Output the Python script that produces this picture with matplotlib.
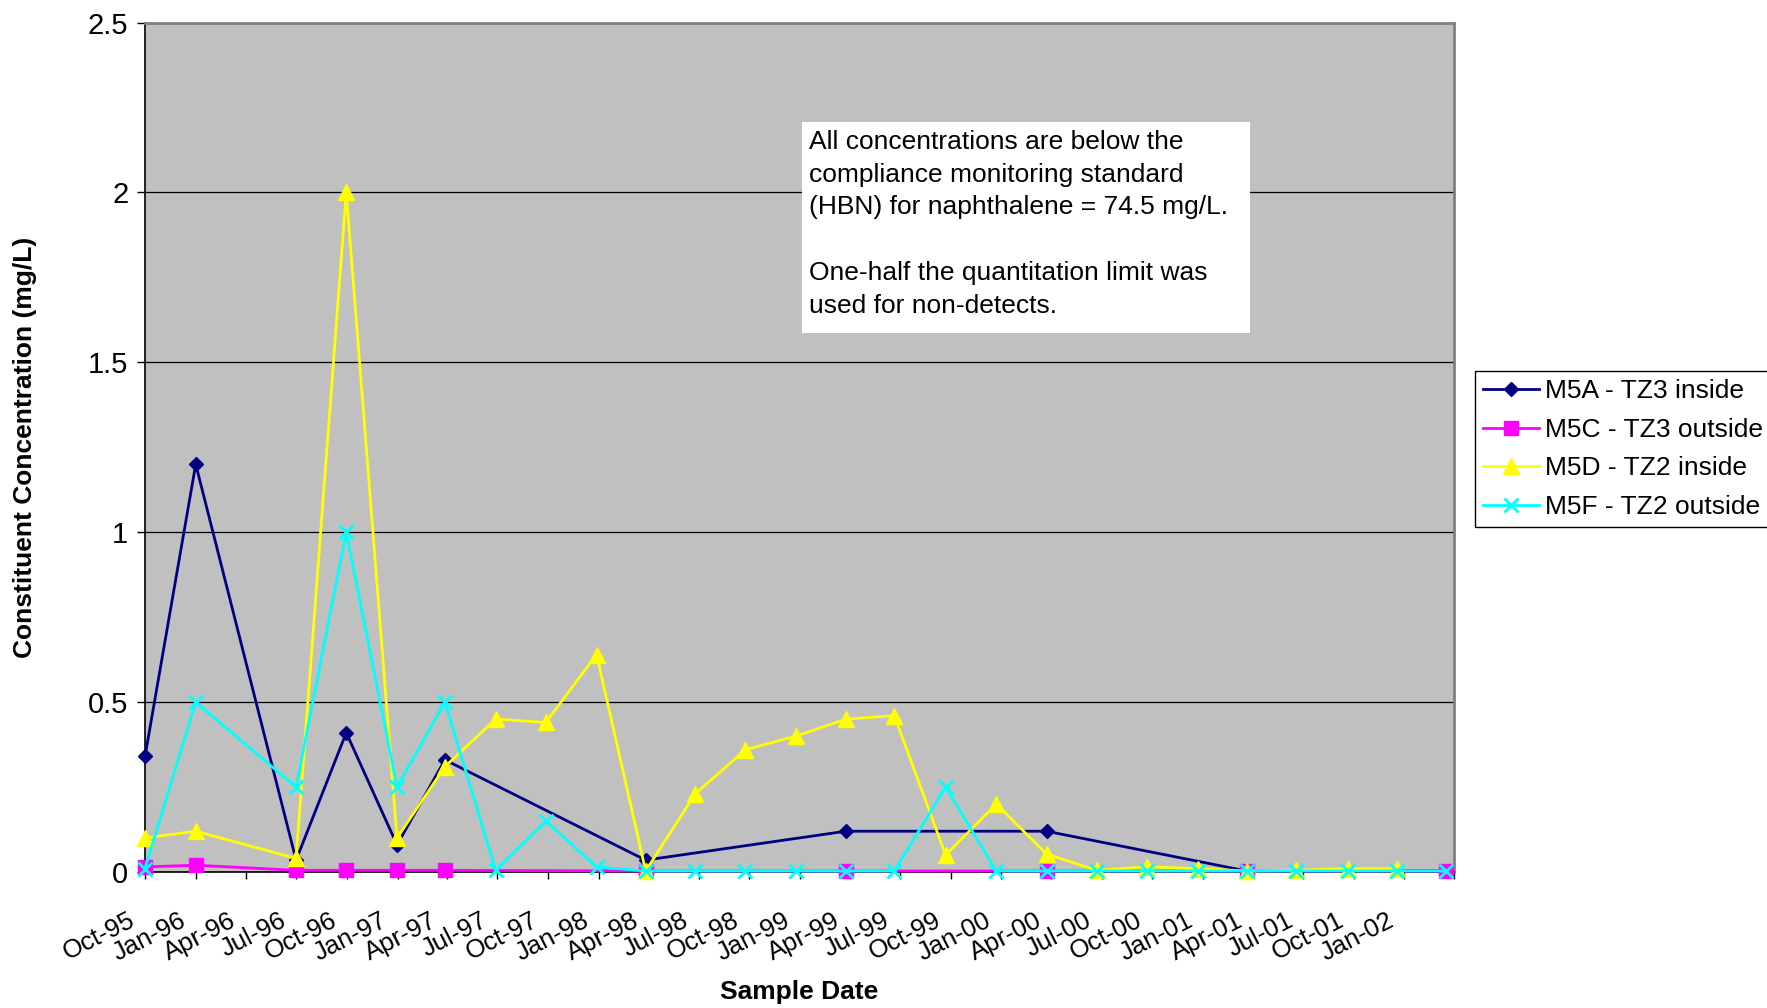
import matplotlib
matplotlib.use("Agg")
import matplotlib.pyplot as plt
from matplotlib.transforms import ScaledTranslation
from matplotlib.patches import Rectangle
import pandas as pd

plt.rcParams['font.family'] = ['Liberation Sans', 'DejaVu Sans']
plt.rcParams['font.size'] = 19

# sampling dates (no sample in Apr-96)
dates = ['1995-10-01', '1996-01-01', '1996-07-01', '1996-09-30', '1996-12-31',
         '1997-03-28', '1997-06-28', '1997-09-27', '1997-12-28', '1998-03-27',
         '1998-06-25', '1998-09-24', '1998-12-25', '1999-03-25', '1999-06-21',
         '1999-09-22', '1999-12-23', '2000-03-23', '2000-06-22', '2000-09-21',
         '2000-12-22', '2001-03-21', '2001-06-19', '2001-09-20', '2001-12-19',
         '2002-03-18']

# wells M5A / M5C were sampled once a year after Apr-97
m5a_dates = [dates[i] for i in (0, 1, 2, 3, 4, 5, 9, 13, 17, 21, 25)]
m5a = [0.34, 1.2, 0.035, 0.41, 0.08, 0.33, 0.035, 0.12, 0.12, 0.003, 0.003]

m5c_dates = m5a_dates
m5c = [0.015, 0.02, 0.005, 0.005, 0.005, 0.005, 0.003, 0.003, 0.003, 0.003, 0.003]

m5d_dates = dates[:25]
m5d = [0.10, 0.12, 0.04, 2.0, 0.10, 0.31, 0.45, 0.44, 0.64, 0.003,
       0.23, 0.36, 0.40, 0.45, 0.46, 0.05, 0.20, 0.053, 0.005, 0.015,
       0.01, 0.003, 0.005, 0.01, 0.01]

m5f_dates = dates
m5f = [0.01, 0.5, 0.25, 1.0, 0.25, 0.5, 0.005, 0.15, 0.015, 0.003,
       0.003, 0.003, 0.003, 0.003, 0.003, 0.25, 0.003, 0.003, 0.003, 0.003,
       0.003, 0.003, 0.003, 0.003, 0.003, 0.003]

series = [
    ('M5A - TZ3 inside', m5a_dates, m5a, '#000080', 'D', 7),
    ('M5C - TZ3 outside', m5c_dates, m5c, '#FF00FF', 's', 10),
    ('M5D - TZ2 inside', m5d_dates, m5d, '#FFFF00', '^', 11),
    ('M5F - TZ2 outside', m5f_dates, m5f, '#00FFFF', 'x', 10),
]

note = ("All concentrations are below the\n"
        "compliance monitoring standard\n"
        "(HBN) for naphthalene = 74.5 mg/L.\n"
        "\n"
        "One-half the quantitation limit was\n"
        "used for non-detects.")

W, H = 1767, 1008
fig = plt.figure(figsize=(W / 100, H / 100), dpi=100)
ax = fig.add_axes([145 / W, 1 - 872 / H, (1454 - 145) / W, (872 - 22.5) / H])
ax.set_facecolor('#C0C0C0')

for name, d, v, c, m, ms in series:
    mew = 2 if m == 'x' else 1
    ax.plot(pd.to_datetime(d), v, color=c, marker=m, markersize=ms,
            markeredgewidth=mew, markeredgecolor=c, linewidth=2,
            label=name, clip_on=False, zorder=3)

ax.set_ylim(0, 2.5)
ax.set_yticks([0, 0.5, 1, 1.5, 2, 2.5])
ax.set_yticklabels(['0', '0.5', '1', '1.5', '2', '2.5'], fontsize=21)
ax.yaxis.grid(True, color='black', linewidth=0.9)
ax.set_axisbelow(True)

ax.set_xlim(pd.Timestamp('1995-10-01'), pd.Timestamp('2002-04-01'))
ticks = pd.date_range('1995-10-01', '2002-04-01', freq='QS-OCT')
ax.set_xticks(ticks)
ax.set_xticklabels([t.strftime('%b-%y') for t in ticks[:-1]] + [''], fontsize=18.5)

ax.tick_params(axis='y', direction='out', length=6, width=1, pad=6)
ax.tick_params(axis='x', direction='out', length=5, width=1, pad=21)
for lab in ax.get_xticklabels():
    lab.set_rotation(27)
    lab.set_rotation_mode('anchor')
    lab.set_ha('right')
    lab.set_va('top')
    lab.set_transform(lab.get_transform() + ScaledTranslation(-17 / 100, 0, fig.dpi_scale_trans))

for s in ['left', 'bottom']:
    ax.spines[s].set_color('black')
    ax.spines[s].set_linewidth(1.2)
for s in ['top', 'right']:
    ax.spines[s].set_color('#808080')
    ax.spines[s].set_linewidth(2)

fig.text(25 / W, 1 - 447 / H, 'Constituent Concentration (mg/L)', rotation=90,
         ha='center', va='center', fontweight='bold')
fig.text(799 / W, 1 - 992 / H, 'Sample Date', ha='center', va='center',
         fontweight='bold')

# note box
fig.patches.append(Rectangle((802 / W, 1 - 333 / H), (1250 - 802) / W, (333 - 122) / H,
                             transform=fig.transFigure, facecolor='white',
                             edgecolor='none', zorder=5))
fig.text(809 / W, 1 - 130 / H, note, ha='left', va='top', linespacing=1.46, zorder=6)

leg = ax.legend(loc='upper left', bbox_to_anchor=(1475 / W, 1 - 371 / H),
                bbox_transform=fig.transFigure, frameon=True, fancybox=False,
                edgecolor='black', framealpha=1, borderpad=0.32,
                labelspacing=0.55, handlelength=2.1, handletextpad=0.25,
                borderaxespad=0)
leg.get_frame().set_linewidth(1)

fig.savefig('out.png', dpi=100)
